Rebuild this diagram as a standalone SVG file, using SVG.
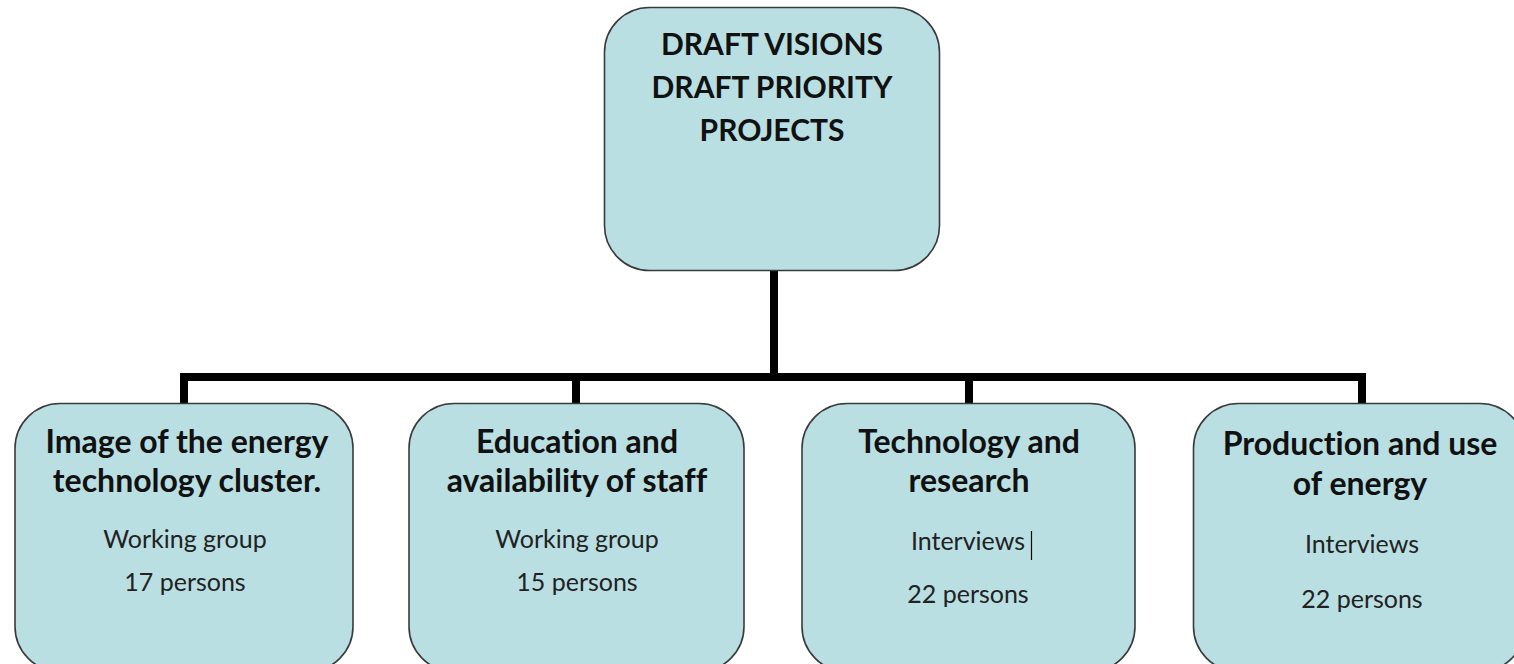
<svg xmlns="http://www.w3.org/2000/svg" width="1514" height="664" viewBox="0 0 1514 664">
<style>
.box{fill:#b9dfe3;stroke:#3a3a3a;stroke-width:1.6}
.t{font-family:Lato,"Open Sans",sans-serif;font-weight:bold;fill:#111;text-anchor:middle;font-variant-ligatures:none}
.h{font-size:30px}
.b{font-size:32px}
.s{font-family:Lato,"Open Sans",sans-serif;font-size:25px;fill:#222;text-anchor:middle;font-variant-ligatures:none}
.c{fill:none;stroke:#000;stroke-width:8;stroke-linejoin:miter}
</style>
<rect width="1514" height="664" fill="#fff"/>
<g id="connectors">
<path class="c" d="M774 271V377M184 404V377H1362V404M576 377V404M969 377V404"/>
</g>
<g id="root">
<rect class="box" x="604.5" y="7.5" width="335" height="263" rx="45"/>
<text class="t h" x="772" y="55">DRAFT VISIONS</text>
<text class="t h" x="772" y="98">DRAFT PRIORITY</text>
<text class="t h" x="772" y="141">PROJECTS</text>
</g>
<g id="n1">
<rect class="box" x="15" y="403.5" width="338" height="268" rx="45"/>
<text class="t b" x="187" y="453">Image of the energy</text>
<text class="t b" x="187" y="492">technology cluster.</text>
<text class="s" x="185" y="548">Working group</text>
<text class="s" x="185" y="591">17 persons</text>
</g>
<g id="n2">
<rect class="box" x="409" y="403.5" width="335" height="268" rx="45"/>
<text class="t b" x="577" y="453">Education and</text>
<text class="t b" x="577" y="492">availability of staff</text>
<text class="s" x="577" y="548">Working group</text>
<text class="s" x="577" y="591">15 persons</text>
</g>
<g id="n3">
<rect class="box" x="802" y="403.5" width="333" height="268" rx="45"/>
<text class="t b" x="969" y="453">Technology and</text>
<text class="t b" x="969" y="492">research</text>
<text class="s" x="968" y="550">Interviews</text>
<line x1="1031.5" y1="531" x2="1031.5" y2="560" stroke="#000" stroke-width="1.2"/>
<text class="s" x="968" y="603">22 persons</text>
</g>
<g id="n4">
<rect class="box" x="1193.5" y="403.5" width="331.5" height="268" rx="45"/>
<text class="t b" x="1360" y="455">Production and use</text>
<text class="t b" x="1360" y="495">of energy</text>
<text class="s" x="1362" y="553">Interviews</text>
<text class="s" x="1362" y="608">22 persons</text>
</g>
</svg>
